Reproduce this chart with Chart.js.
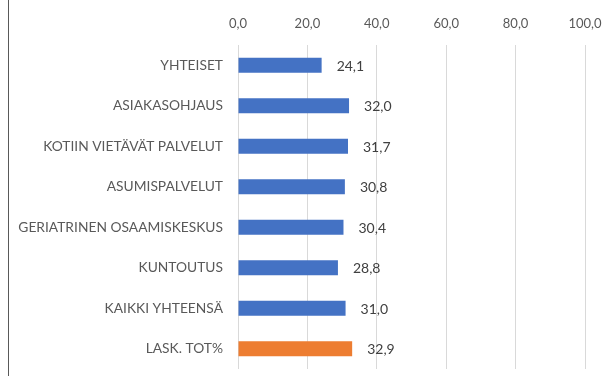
<!DOCTYPE html>
<html>
<head>
<meta charset="utf-8">
<script src="https://cdn.jsdelivr.net/npm/chart.js@4"></script>
<style>
  html, body { margin: 0; padding: 0; background: #fff; }
  #wrap { width: 608px; height: 376px; position: relative; }
</style>
</head>
<body>
<div id="wrap"><canvas id="c" width="608" height="376"></canvas></div>
<script>
const categories = [
  'YHTEISET',
  'ASIAKASOHJAUS',
  'KOTIIN VIETÄVÄT PALVELUT',
  'ASUMISPALVELUT',
  'GERIATRINEN OSAAMISKESKUS',
  'KUNTOUTUS',
  'KAIKKI YHTEENSÄ',
  'LASK. TOT%'
];
const values = [24.1, 32.0, 31.7, 30.8, 30.4, 28.8, 31.0, 32.9];
const barColors = ['#4472C4', '#4472C4', '#4472C4', '#4472C4', '#4472C4', '#4472C4', '#4472C4', '#ED7D31'];
const xTicks = [0, 20, 40, 60, 80, 100];

const fmt = v => v.toFixed(1).replace('.', ',');
const FONT = 'Lato, "Open Sans", sans-serif';
const TEXT = '#595959';

// Value labels placed just past the end of each bar
const valueLabels = {
  id: 'valueLabels',
  afterDatasetsDraw(chart) {
    const ctx = chart.ctx;
    const meta = chart.getDatasetMeta(0);
    ctx.save();
    ctx.font = '14px ' + FONT;
    ctx.fillStyle = '#404040';
    ctx.textAlign = 'left';
    ctx.textBaseline = 'middle';
    meta.data.forEach((bar, i) => {
      ctx.fillText(fmt(values[i]), bar.x + 15, bar.y + 1);
    });
    ctx.restore();
  }
};

// Thin frame line along the left edge
const leftEdge = {
  id: 'leftEdge',
  afterDraw(chart) {
    const ctx = chart.ctx;
    ctx.save();
    ctx.strokeStyle = '#595959';
    ctx.lineWidth = 1;
    ctx.beginPath();
    ctx.moveTo(8.5, 0);
    ctx.lineTo(8.5, chart.height);
    ctx.stroke();
    ctx.restore();
  }
};

new Chart(document.getElementById('c'), {
  type: 'bar',
  data: {
    labels: categories,
    datasets: [{
      data: values,
      backgroundColor: barColors,
      borderWidth: 0,
      barPercentage: 0.74,
      categoryPercentage: 0.5
    }]
  },
  options: {
    indexAxis: 'y',
    responsive: false,
    animation: false,
    layout: { padding: { left: 0, right: 23, top: 0, bottom: 7 } },
    plugins: {
      legend: { display: false },
      tooltip: { enabled: false }
    },
    scales: {
      x: {
        position: 'top',
        min: 0,
        max: 100,
        afterBuildTicks(axis) { axis.ticks = xTicks.map(v => ({ value: v })); },
        afterFit(axis) {
          axis.height = 45;
          axis.paddingLeft = 0;
          axis.paddingRight = 0;
        },
        ticks: {
          callback: v => fmt(v),
          color: TEXT,
          font: { family: FONT, size: 13 },
          padding: 13,
          maxRotation: 0
        },
        grid: { color: '#d9d9d9', drawTicks: false, lineWidth: 1 },
        border: { display: false }
      },
      y: {
        afterFit(axis) {
          axis.width = 238;
          axis.paddingTop = 0;
          axis.paddingBottom = 0;
        },
        ticks: {
          color: TEXT,
          font: { family: FONT, size: 13.8 },
          padding: 15
        },
        grid: { display: false, drawTicks: false },
        border: { display: false }
      }
    }
  },
  plugins: [valueLabels, leftEdge]
});
</script>
</body>
</html>
